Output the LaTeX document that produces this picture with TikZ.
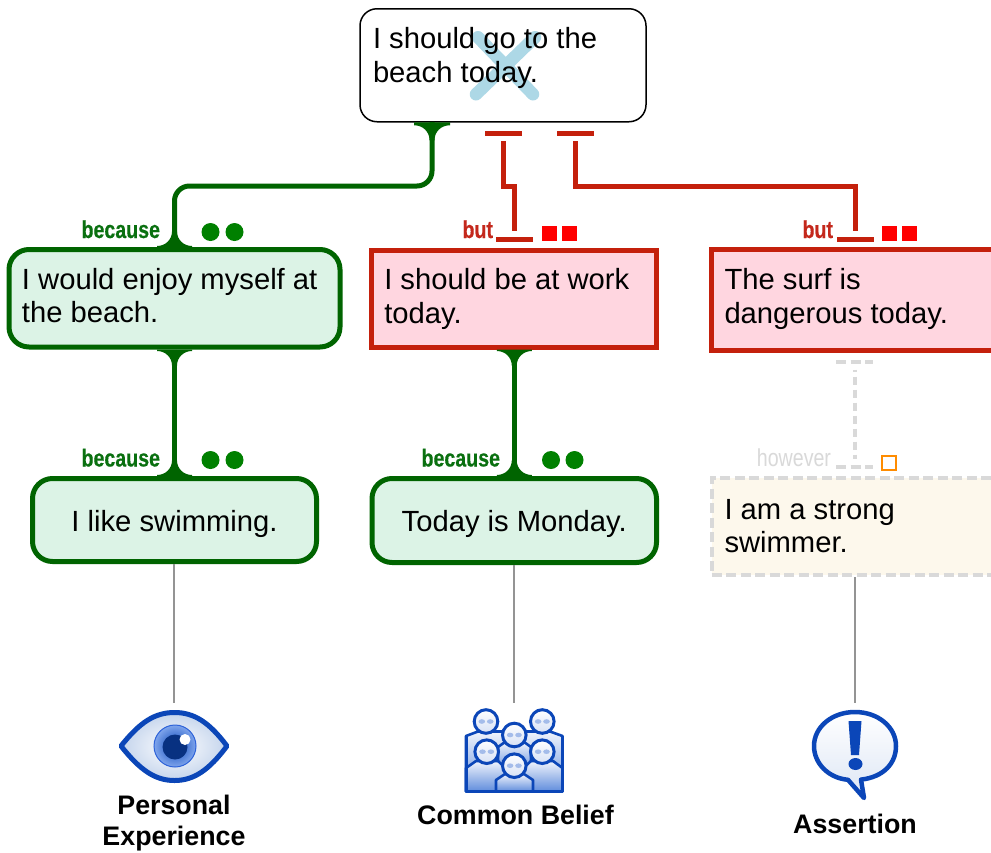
\documentclass[tikz,border=0pt]{standalone}
\usepackage{fontspec}
\setmainfont{Liberation Sans}
\newfontfamily\condfam[FakeStretch=0.8,BoldFeatures={FakeBold=0.4}]{Liberation Sans}
\definecolor{grn}{HTML}{006400}
\definecolor{grnlab}{HTML}{0A7010}
\definecolor{grndot}{HTML}{008000}
\definecolor{rdl}{HTML}{C4200C}
\definecolor{rdlab}{HTML}{C4281C}
\definecolor{grnfill}{HTML}{DCF3E6}
\definecolor{pinkfill}{HTML}{FFD6E0}
\definecolor{creamfill}{HTML}{FDF8EC}
\definecolor{dgray}{HTML}{D9D9D9}
\definecolor{crossblue}{HTML}{ADD8E6}
\definecolor{iconblue}{HTML}{0B46B8}
\definecolor{lightblue}{HTML}{A4BCEA}
\definecolor{bodytop}{HTML}{F0F4FC}
\definecolor{bodybot}{HTML}{5F8CDC}
\definecolor{eyecorner}{HTML}{C4D4EC}
\definecolor{irismid}{HTML}{2D62D8}
\definecolor{irisrim}{HTML}{7FA5EC}
\definecolor{bubblebot}{HTML}{DDE6F5}
\newcommand{\lefttext}[5]{\parbox[c][#2pt][t]{#1pt}{\leftskip=#3pt\rightskip=0pt plus 1fil\parindent=0pt\rule{0pt}{#4pt}#5}}
\newcommand{\midtext}[4]{\parbox[c][#2pt][t]{#1pt}{\centering\parindent=0pt\rule{0pt}{#3pt}#4}}
\tikzset{
  x=1pt,y=-1pt,
  every node/.style={inner sep=0pt,outer sep=0pt},
  claim/.style={font=\fontsize{29.2}{33.6}\selectfont,text=black},
  topbox/.style={claim,draw=black,line width=1.5pt,fill=white,rounded corners=17pt},
  grnbox/.style={claim,draw=grn,line width=5pt,fill=grnfill,rounded corners=20pt},
  redbox/.style={claim,draw=rdl,line width=5pt,fill=pinkfill},
  dashbox/.style={claim,draw=dgray,line width=4pt,fill=creamfill,dash pattern=on 10pt off 4.5pt},
  grnline/.style={draw=grn,line width=5pt},
  redline/.style={draw=rdl,line width=5pt,line join=miter},
  tbar/.style={fill=rdl,minimum width=37pt,minimum height=5pt},
  dashline/.style={draw=dgray,line width=4pt,dash pattern=on 10pt off 4.5pt},
  graytie/.style={draw=black!42,line width=1.8pt,shorten <=2.5pt},
  lab/.style={font=\condfam\bfseries\fontsize{24.5}{28}\selectfont,anchor=base east},
  iconlab/.style={font=\bfseries\fontsize{26.8}{31}\selectfont,text=black,align=center,anchor=base},
  gdot/.style={fill=grndot,circle,minimum size=18pt},
  rsq/.style={fill=red,minimum size=15pt},
  flare/.pic={\fill (-17.5,-0.5) -- (-17.5,1) .. controls (-9,1) and (-2.5,7.5) .. (-2.5,15.5) -- (2.5,15.5) .. controls (2.5,7.5) and (9,1) .. (17.5,1) -- (17.5,-0.5) -- cycle;},
  flaretop/.pic={\fill (-18,0) -- (-18,3) .. controls (-9,3) and (-2.5,9.5) .. (-2.5,18) -- (2.5,18) .. controls (2.5,9.5) and (9,3) .. (18,3) -- (18,0) -- cycle;},
  bodyshade/.style={top color=bodytop,bottom color=bodybot,draw=iconblue,line width=2.6pt,line join=round},
  pics/headicon/.style={code={
    \shade[top color=white,bottom color=lightblue!45,draw=iconblue,line width=3pt] (0,0) circle[radius=11.8];
    \fill[lightblue] (-4.2,0) ellipse[x radius=3.3,y radius=2.3];
    \fill[lightblue] (4.2,0) ellipse[x radius=3.3,y radius=2.3];
  }},
}
\begin{document}
\begin{tikzpicture}
\clip (0,0) rectangle (991,852);
\fill[white] (0,0) rectangle (991,852);

% claims
\node[topbox,path picture={
  \draw[crossblue,line width=12.5pt,line cap=round]
    ([shift={(-25,-28)}]path picture bounding box.center) -- ([shift={(30,29)}]path picture bounding box.center)
    ([shift={(32,-28)}]path picture bounding box.center) -- ([shift={(-27,29)}]path picture bounding box.center);
}] (top) at (503,65.25) {\lefttext{286}{113}{13}{40}{I should go to the\\beach today.}};
\node[grnbox] (A) at (174.5,298.25) {\lefttext{331}{97.5}{13}{39.5}{I would enjoy myself at\\the beach.}};
\node[redbox] (B) at (514.25,298.5) {\lefttext{285}{97}{12.5}{39.5}{I should be at work\\today.}};
\node[redbox] (C) at (855,300) {\lefttext{287}{101}{13}{40}{The surf is\\dangerous today.}};
\node[grnbox] (D) at (174.5,520) {\midtext{284}{83}{53}{I like swimming.}};
\node[grnbox] (E) at (514.25,520.5) {\midtext{284.5}{84}{52.5}{Today is Monday.}};
\node[dashbox] (F) at (855,526.5) {\lefttext{287}{97}{13}{41}{I am a strong\\swimmer.}};

% green connectors
\coordinate (g1) at (432,186);
\coordinate (g2) at (174.5,186);
\draw[grnline,rounded corners=15pt] ([xshift=-71pt]top.south) -- (g1) -- (g2) -- (A.north);
\draw[grnline,shorten <=2.5pt] (A.south) -- (D.north);
\draw[grnline,shorten <=2.5pt] (B.south) -- (E.north);
\pic[color=grn] at ([xshift=-71pt,yshift=-0.5pt]top.south) {flaretop};
\pic[color=grn,yscale=-1] at ([yshift=2.5pt]A.north) {flare};
\pic[color=grn] at ([yshift=-3pt]A.south) {flare};
\pic[color=grn,yscale=-1] at ([yshift=2.5pt]D.north) {flare};
\pic[color=grn] at ([yshift=-3pt]B.south) {flare};
\pic[color=grn,yscale=-1] at ([yshift=2.5pt]E.north) {flare};

% red connectors
\node[tbar] (t1) at (503.5,133) {};
\node[tbar] (t2) at (575,133) {};
\node[tbar] (b1) at (514.25,239) {};
\node[tbar] (b2) at (855,239) {};
\coordinate (r1) at (0,186);
\coordinate (r2) at (0,186);
\draw[redline,shorten <=5.5pt,shorten >=5.5pt] (t1.south) -- (t1.south |- r1) -- (b1.north |- r1) -- (b1.north);
\draw[redline,shorten <=5.5pt,shorten >=5.5pt] (t2.south) -- (t2.south |- r2) -- (b2.north |- r2) -- (b2.north);

% dashed connector
\coordinate (d1) at (854.5,361.5);
\coordinate (d2) at (854.5,467);
\draw[dashline] ([xshift=-18.5pt]d1) -- ([xshift=18.5pt]d1);
\draw[dashline] ([xshift=-18.5pt]d2) -- ([xshift=18.5pt]d2);
\draw[dashline,shorten <=8pt,shorten >=8pt,dash pattern=on 2pt off 5pt on 8pt off 5pt on 8pt off 5pt on 8pt off 5pt on 8pt off 5pt on 8pt off 5pt on 8pt off 5pt on 8pt off 5pt on 8pt off 5pt] (d1) -- (d2);

% labels
\node[lab,text=grnlab] (l1) at (160,238) {because};
\node[lab,text=rdlab] (l2) at (493,238) {but};
\node[lab,text=rdlab] (l3) at (833,238) {but};
\node[lab,text=grnlab] (l4) at (160,466.5) {because};
\node[lab,text=grnlab] (l5) at (500,466.5) {because};
\node[lab,font=\condfam\fontsize{24.5}{28}\selectfont,text=dgray] (l6) at (831,466.5) {however};

% marks
\node[gdot] (m1) at (210.5,232) {};
\node[gdot] (m2) at (234.5,232) {};
\node[gdot] (m3) at (210.5,460) {};
\node[gdot] (m4) at (234.5,460) {};
\node[gdot] (m5) at (551,460) {};
\node[gdot] (m6) at (574.5,460) {};
\node[rsq] (m7) at (549.5,233.5) {};
\node[rsq] (m8) at (569.5,233.5) {};
\node[rsq] (m9) at (889.5,233.5) {};
\node[rsq] (m10) at (909.5,233.5) {};
\node[draw=orange!90!yellow,line width=2pt,minimum size=14pt] (m11) at (889,462.5) {};

% ties to icons
\coordinate (ic1) at (174.3,703);
\coordinate (ic2) at (514.25,703);
\coordinate (ic3) at (855,703);
\draw[graytie] (D.south -| ic1) -- (ic1);
\draw[graytie] (E.south -| ic2) -- (ic2);
\draw[graytie,shorten <=2pt] (F.south) -- (ic3);

% eye icon
\shade[inner color=white,outer color=eyecorner]
  (121,746) .. controls (140,722) and (155,712.5) .. (174.5,712.5) .. controls (194,712.5) and (209,722) .. (227,746)
  .. controls (209,770) and (194,780.5) .. (174.5,780.5) .. controls (155,780.5) and (140,770) .. (121,746) -- cycle;
\draw[iconblue,line width=5pt,line join=round]
  (121,746) .. controls (140,722) and (155,712.5) .. (174.5,712.5) .. controls (194,712.5) and (209,722) .. (227,746)
  .. controls (209,770) and (194,780.5) .. (174.5,780.5) .. controls (155,780.5) and (140,770) .. (121,746) -- cycle;
\shade[inner color=iconblue,middle color=irismid,outer color=irisrim,draw=irismid,line width=1pt] (175,746) circle[radius=21];
\fill[iconblue!70!black] (175,747) circle[radius=12.5];
\fill[white] (185,739.5) circle[radius=5.5];

% people icon
\path[bodyshade] (466,736) -- (478,731.5) -- (550,731.5) -- (562.5,736) -- (562.5,791.5) -- (466,791.5) -- cycle;
\pic at (486,721.5) {headicon};
\pic at (542.3,721.5) {headicon};
\path[bodyshade] (498,747) -- (505,742) -- (524,742) -- (531,747) -- (531,772) -- (498,772) -- cycle;
\pic at (514.3,735) {headicon};
\path[bodyshade] (466,768) -- (476,761) -- (498,761) -- (510,772) -- (510,791.5) -- (466,791.5) -- cycle;
\path[bodyshade] (562.5,768) -- (553,761) -- (531,761) -- (519,772) -- (519,791.5) -- (562.5,791.5) -- cycle;
\pic at (486.7,751.7) {headicon};
\pic at (542.3,751.7) {headicon};
\path[bodyshade] (496,780) -- (505,774) -- (524,774) -- (533,780) -- (533,791.5) -- (496,791.5) -- cycle;
\pic at (514.3,765.7) {headicon};
\draw[iconblue,line width=3pt,line join=round] (466,736) -- (466,791.5) -- (562.5,791.5) -- (562.5,736);

% assertion icon
\shade[top color=white,bottom color=bubblebot,draw=iconblue,line width=4.5pt,line join=round]
  (861,779.6) .. controls (884,777) and (896,763) .. (896,746) .. controls (896,727) and (878,712) .. (855,712)
  .. controls (832,712) and (814,727) .. (814,746) .. controls (814,763) and (828,778) .. (848,779.8) -- (864,798) -- cycle;
\fill[iconblue] (848.5,721) -- (861.5,721) -- (859,755) -- (851,755) -- cycle;
\fill[iconblue] (855.5,764) ellipse[x radius=7,y radius=6];

% icon labels
\node[iconlab] (p1) at (174,845) {Personal\\Experience};
\node[iconlab] (p2) at (515.5,824) {Common Belief};
\node[iconlab] (p3) at (855,833) {Assertion};
\end{tikzpicture}
\end{document}
